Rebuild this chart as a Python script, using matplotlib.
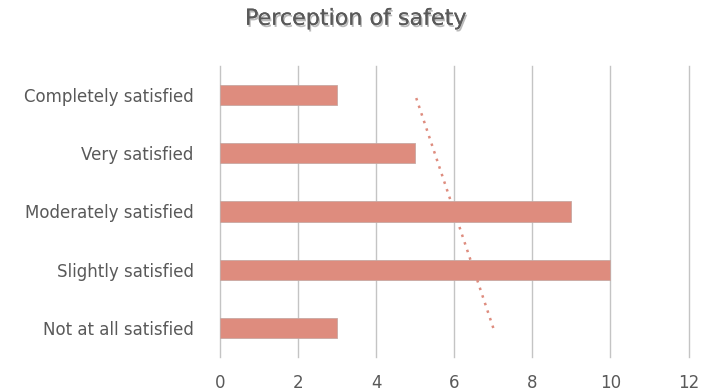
import numpy as np
import matplotlib
matplotlib.use('Agg')
import matplotlib.pyplot as plt
import matplotlib.patheffects as pe

# data, listed top to bottom as in the chart
categories = ['Completely satisfied', 'Very satisfied', 'Moderately satisfied',
              'Slightly satisfied', 'Not at all satisfied']
counts = [3, 5, 9, 10, 3]
x_ticks = [0, 2, 4, 6, 8, 10, 12]

bar_color = '#DE8C7E'
text_color = '#595959'

plt.rcParams['font.family'] = ['DejaVu Sans']

fig = plt.figure(figsize=(7.12, 3.92), dpi=100)
ax = fig.add_axes([0.309, 0.089, 0.658, 0.743])

pos = np.arange(len(categories))
ax.barh(pos, counts, height=0.345, color=bar_color, edgecolor='#C8A8A2',
        linewidth=0.6, zorder=3)

# linear trendline as Excel draws it (series order bottom -> top)
xs = np.arange(1, len(counts) + 1)
vals = np.array(counts[::-1])
slope, icpt = np.polyfit(xs, vals, 1)
fit = slope * xs + icpt
ax.plot(fit, pos[::-1], linestyle=(0, (1, 2.2)), color=bar_color,
        linewidth=1.8, zorder=4)

ax.set_ylim(len(categories) - 0.5, -0.5)
ax.set_xlim(0, 12)
ax.set_xticks(x_ticks)
ax.set_yticks(pos)
ax.set_yticklabels(categories)

ax.grid(True, axis='x', color='#C4C4C4', linewidth=1.0, zorder=0)
for gl in ax.get_xgridlines():
    gl.set_clip_on(False)
for s in ax.spines.values():
    s.set_visible(False)
ax.tick_params(axis='both', length=0, colors=text_color, labelsize=12)
ax.tick_params(axis='y', pad=19)
ax.tick_params(axis='x', pad=12)

fig.text(0.5, 0.952, 'Perception of safety', ha='center', va='center',
         fontsize=16, color=text_color,
         path_effects=[pe.withSimplePatchShadow(offset=(1, -1.5), alpha=0.3),
                       pe.Normal()])

plt.savefig('out.png', dpi=100)
